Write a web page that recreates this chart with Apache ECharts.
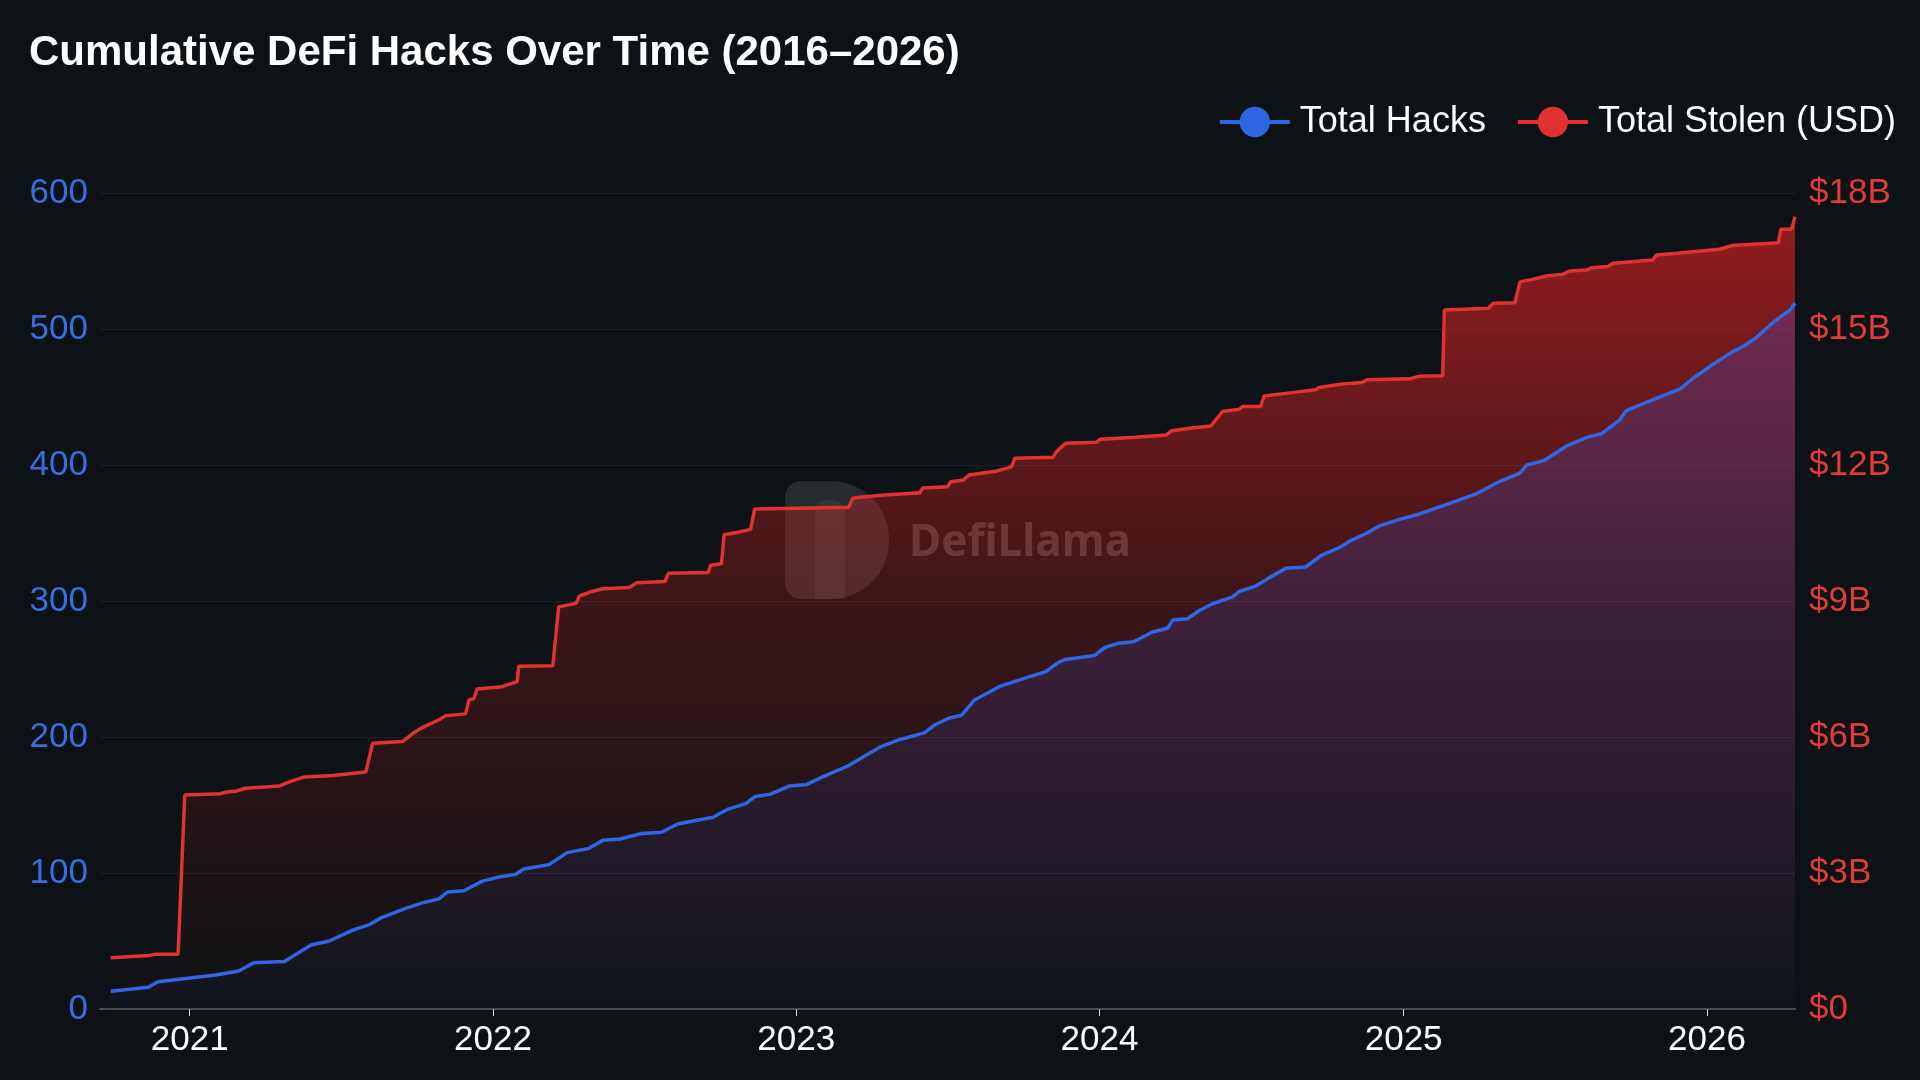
<!DOCTYPE html>
<html>
<head>
<meta charset="utf-8">
<script src="https://cdn.jsdelivr.net/npm/echarts@6/dist/echarts.min.js"></script>
<style>
html,body{margin:0;padding:0;background:#0c1215;}
#chart{width:1920px;height:1080px;}
</style>
</head>
<body>
<div id="chart"></div>
<script>
const titleText = 'Cumulative DeFi Hacks Over Time (2016\u20132026)';
const seriesNames = ['Total Hacks', 'Total Stolen (USD)'];

const hackDates = ['2020-09-28','2020-11-12','2020-11-24','2021-02-01','2021-03-01','2021-03-19','2021-04-25','2021-05-27','2021-06-18','2021-07-16','2021-08-05','2021-08-19','2021-09-18','2021-10-08','2021-10-28','2021-11-07','2021-11-27','2021-12-19','2022-01-08','2022-01-28','2022-02-07','2022-03-09','2022-03-31','2022-04-26','2022-05-13','2022-06-03','2022-06-29','2022-07-23','2022-08-11','2022-09-23','2022-10-11','2022-11-01','2022-11-12','2022-12-01','2022-12-24','2023-01-13','2023-01-30','2023-03-05','2023-04-13','2023-05-05','2023-06-04','2023-06-17','2023-07-04','2023-07-19','2023-08-03','2023-09-02','2023-10-07','2023-10-28','2023-11-13','2023-11-21','2023-12-26','2024-01-08','2024-01-24','2024-02-11','2024-03-04','2024-03-23','2024-03-29','2024-04-16','2024-04-30','2024-05-16','2024-06-09','2024-06-17','2024-07-07','2024-07-23','2024-08-12','2024-09-05','2024-09-25','2024-10-15','2024-10-31','2024-11-18','2024-12-02','2024-12-27','2025-01-20','2025-02-22','2025-03-30','2025-04-27','2025-05-21','2025-05-29','2025-06-18','2025-07-16','2025-08-13','2025-08-27','2025-09-18','2025-09-26','2025-10-28','2025-11-30','2025-12-16','2026-01-08','2026-01-31','2026-02-13','2026-03-02','2026-03-22','2026-04-11','2026-04-17'];
const hackCounts = [13,16,20,25,28,34,35,47,50,58,62,67,74,78,81,86,87,94,97,99,103,106,115,118,124,125,129,130,136,141,147,151,156,158,164,165,170,179,193,198,203,209,214,216,227,237,244,248,255,257,260,266,269,270,277,280,286,287,293,298,303,307,311,317,324,325,334,339,345,350,355,360,364,371,379,388,394,400,403,414,421,423,433,440,448,456,464,474,483,487,494,505,514,519];

const stolenDates = ['2020-09-28','2020-11-13','2020-11-21','2020-12-18','2020-12-26','2021-02-07','2021-02-13','2021-02-27','2021-03-09','2021-04-19','2021-05-01','2021-05-19','2021-06-22','2021-08-01','2021-08-09','2021-09-14','2021-09-26','2021-10-06','2021-10-28','2021-11-05','2021-11-29','2021-12-03','2021-12-09','2021-12-13','2022-01-12','2022-01-30','2022-02-01','2022-03-14','2022-03-21','2022-04-11','2022-04-15','2022-04-30','2022-05-13','2022-06-14','2022-06-23','2022-07-27','2022-07-31','2022-09-17','2022-09-20','2022-10-03','2022-10-06','2022-10-21','2022-11-07','2022-11-12','2023-03-05','2023-03-10','2023-04-17','2023-05-30','2023-06-02','2023-07-02','2023-07-06','2023-07-21','2023-07-28','2023-08-31','2023-09-17','2023-09-21','2023-11-06','2023-11-10','2023-11-21','2023-12-28','2024-01-02','2024-02-13','2024-03-21','2024-03-27','2024-04-18','2024-05-14','2024-05-28','2024-06-17','2024-06-21','2024-07-13','2024-07-17','2024-08-12','2024-09-17','2024-09-21','2024-10-17','2024-11-12','2024-11-18','2025-01-08','2025-01-20','2025-02-17','2025-02-19','2025-04-13','2025-04-19','2025-05-15','2025-05-21','2025-06-06','2025-06-22','2025-07-12','2025-07-20','2025-08-09','2025-08-15','2025-09-04','2025-09-10','2025-10-28','2025-11-01','2025-11-26','2026-01-16','2026-01-31','2026-03-28','2026-03-31','2026-04-13','2026-04-17'];
const stolenBillions = [1.13,1.18,1.21,1.21,4.72,4.75,4.78,4.81,4.87,4.92,5.01,5.12,5.15,5.23,5.86,5.90,6.07,6.19,6.38,6.47,6.51,6.82,6.85,7.06,7.11,7.22,7.56,7.57,8.87,8.95,9.11,9.21,9.27,9.30,9.40,9.43,9.61,9.63,9.79,9.82,10.46,10.51,10.58,11.03,11.07,11.27,11.34,11.39,11.49,11.52,11.63,11.67,11.78,11.87,11.96,12.15,12.17,12.29,12.48,12.50,12.57,12.61,12.66,12.75,12.81,12.86,13.18,13.23,13.29,13.29,13.52,13.58,13.66,13.71,13.78,13.82,13.88,13.90,13.96,13.97,15.42,15.46,15.57,15.58,16.04,16.10,16.17,16.21,16.28,16.30,16.35,16.38,16.45,16.52,16.63,16.67,16.76,16.84,16.90,17.20,17.20,17.48];

const xMin = '2020-09-15';
const xMax = '2026-04-17';

const blue = '#2f66e4';
const red = '#e03232';
const font = 'Liberation Sans, Arial, Helvetica, sans-serif';

const chart = echarts.init(document.getElementById('chart'), null, {renderer: 'canvas'});
const YEAR = 365 * 24 * 3600 * 1000;

chart.setOption({
  backgroundColor: '#0c1215',
  animation: false,
  textStyle: {fontFamily: font},
  title: {
    text: titleText,
    left: 24, top: 27,
    textStyle: {color: '#ffffff', fontSize: 42, fontWeight: 'bold', fontFamily: font}
  },
  legend: {
    right: 19, top: 99,
    itemWidth: 70, itemHeight: 38, itemGap: 30,
    lineStyle: {width: 4},
    textStyle: {color: '#ffffff', fontSize: 36, fontFamily: font, padding: [0, 0, 0, 5]},
    data: seriesNames
  },
  grid: {left: 100, right: 125, top: 193, bottom: 71},
  xAxis: {
    type: 'time',
    min: xMin, max: xMax,
    minInterval: YEAR, maxInterval: YEAR,
    axisLine: {show: true, lineStyle: {color: '#454b50', width: 2}},
    axisTick: {show: true, length: 7, lineStyle: {color: '#d0d4d8', width: 1}},
    splitLine: {show: false},
    axisLabel: {
      color: '#ffffff', fontSize: 35, margin: 14, fontFamily: font,
      showMinLabel: false, showMaxLabel: false,
      formatter: function (v) { return String(new Date(v).getFullYear()); }
    }
  },
  yAxis: [
    {
      type: 'value', min: 0, max: 600, interval: 100, position: 'left',
      axisLine: {show: false}, axisTick: {show: false},
      splitLine: {show: true, lineStyle: {color: '#1b2328', width: 1}},
      axisLabel: {color: '#3a6ddc', fontSize: 35, margin: 12, fontFamily: font}
    },
    {
      type: 'value', min: 0, max: 18, interval: 3, position: 'right',
      axisLine: {show: false}, axisTick: {show: false},
      splitLine: {show: false},
      axisLabel: {color: '#e03a3a', fontSize: 35, margin: 14, fontFamily: font,
        formatter: function (v) { return v === 0 ? '$0' : '$' + v + 'B'; }}
    }
  ],
  series: [
    {
      name: seriesNames[1],
      type: 'line', yAxisIndex: 1,
      symbol: 'circle', showSymbol: false,
      data: stolenDates.map((d, i) => [d, stolenBillions[i]]),
      lineStyle: {color: red, width: 3.5},
      itemStyle: {color: red},
      areaStyle: {
        color: new echarts.graphic.LinearGradient(0, 0, 0, 1, [
          {offset: 0, color: 'rgba(220,34,34,0.92)'},
          {offset: 0.5, color: 'rgba(220,34,34,0.32)'},
          {offset: 1, color: 'rgba(220,34,34,0.01)'}
        ])
      },
      z: 2
    },
    {
      name: seriesNames[0],
      type: 'line', yAxisIndex: 0,
      symbol: 'circle', showSymbol: false,
      data: hackDates.map((d, i) => [d, hackCounts[i]]),
      lineStyle: {color: blue, width: 3.5},
      itemStyle: {color: blue},
      areaStyle: {
        color: new echarts.graphic.LinearGradient(0, 0, 0, 1, [
          {offset: 0, color: 'rgba(70,90,235,0.36)'},
          {offset: 1, color: 'rgba(70,90,235,0.05)'}
        ])
      },
      z: 3
    }
  ],
  graphic: [
    {
      type: 'group', z: 100, silent: true,
      children: [
        {type: 'rect', shape: {x: 785, y: 481, width: 104, height: 118, r: [16, 58, 58, 16]},
         style: {fill: 'rgba(255,255,255,0.11)'}},
        {type: 'rect', shape: {x: 815, y: 500, width: 30, height: 99, r: [12, 12, 0, 0]},
         style: {fill: 'rgba(255,255,255,0.06)'}},
        {type: 'text', x: 909, y: 543,
         style: {text: 'DefiLlama', fill: 'rgba(255,255,255,0.2)', fontSize: 44, fontWeight: 'bold',
                 fontFamily: 'Noto Sans, Open Sans, sans-serif', verticalAlign: 'middle', align: 'left'}}
      ]
    }
  ]
});
</script>
</body>
</html>
